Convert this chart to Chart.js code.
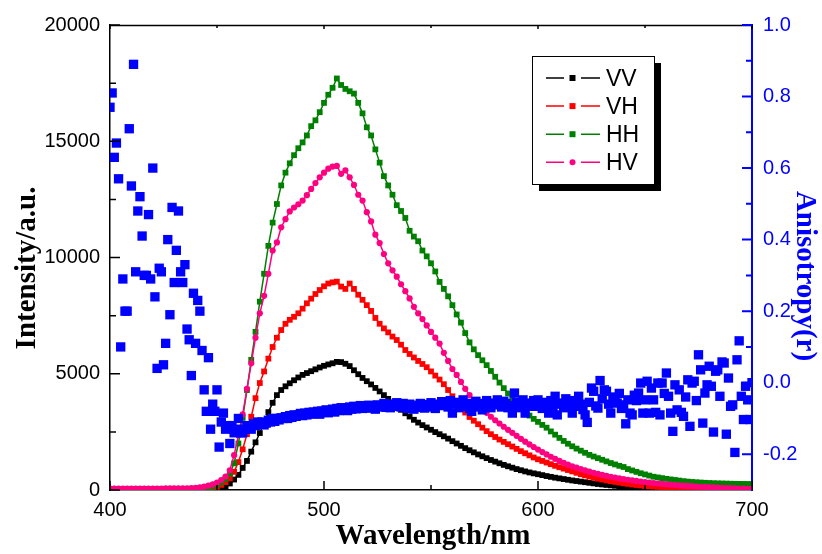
<!DOCTYPE html>
<html>
<head>
<meta charset="utf-8">
<script src="https://cdn.jsdelivr.net/npm/chart.js@4"></script>
<style>
html, body { margin: 0; padding: 0; background: #fff; }
#wrap { width: 822px; height: 554px; }
</style>
</head>
<body>
<div id="wrap"><canvas id="chart" width="822" height="554"></canvas></div>
<script>
// Polarized emission spectra (2 nm grid) and anisotropy r (1 nm grid), 400-700 nm
const wavelengthStart = 400;
const intensityStep = 2;
const anisotropyStep = 1;

const seriesLabels = ['VV', 'VH', 'HH', 'HV'];

const intensityVV = [
  10, 10, 10, 10, 10, 10, 10, 10, 10, 10,
  10, 10, 10, 10, 10, 10, 10, 10, 10, 12,
  14, 16, 18, 22, 32, 50, 85, 150, 280, 450,
  650, 950, 1250, 1650, 2050, 2450, 2880, 3350, 3750, 4080,
  4300, 4460, 4590, 4720, 4840, 4950, 5030, 5110, 5190, 5270,
  5340, 5400, 5450, 5510, 5500, 5430, 5330, 5150, 4980, 4820,
  4680, 4540, 4390, 4240, 4080, 3920, 3760, 3600, 3450, 3300,
  3160, 3020, 2900, 2790, 2690, 2590, 2490, 2400, 2310, 2210,
  2100, 2000, 1900, 1800, 1710, 1620, 1530, 1450, 1370, 1290,
  1220, 1150, 1080, 1020, 960, 900, 850, 800, 755, 715,
  680, 640, 600, 565, 530, 500, 470, 440, 410, 385,
  360, 335, 310, 285, 260, 238, 218, 200, 182, 166,
  150, 136, 123, 110, 98, 88, 80, 72, 65, 58,
  52, 47, 42, 38, 34, 31, 28, 25, 23, 21,
  19, 17, 16, 15, 14, 13, 12, 11, 10, 10,
  9
];

const intensityVH = [
  30, 30, 30, 30, 30, 30, 30, 30, 30, 30,
  30, 30, 30, 30, 30, 30, 30, 30, 32, 35,
  38, 42, 48, 60, 90, 140, 220, 340, 500, 780,
  1200, 1750, 2400, 3150, 3950, 4600, 5100, 5650, 6150, 6550,
  6880, 7150, 7320, 7450, 7600, 7800, 8030, 8230, 8430, 8600,
  8760, 8880, 8930, 8960, 8750, 8650, 8880, 8650, 8400, 8180,
  7950, 7700, 7400, 7150, 6950, 6780, 6600, 6450, 6250, 6020,
  5850, 5700, 5550, 5420, 5280, 5100, 4920, 4750, 4550, 4300,
  4030, 3780, 3550, 3330, 3140, 2980, 2830, 2680, 2530, 2400,
  2280, 2170, 2070, 1970, 1870, 1770, 1670, 1580, 1490, 1400,
  1320, 1250, 1180, 1110, 1040, 980, 920, 860, 800, 740,
  680, 630, 580, 530, 490, 450, 415, 380, 350, 320,
  290, 265, 240, 215, 195, 175, 160, 148, 137, 127,
  118, 110, 103, 96, 90, 85, 80, 76, 72, 68,
  64, 60, 56, 52, 48, 45, 42, 39, 36, 33,
  30
];

const intensityHH = [
  40, 40, 40, 40, 40, 40, 40, 40, 40, 40,
  40, 40, 40, 40, 40, 40, 42, 44, 46, 48,
  50, 60, 80, 110, 160, 230, 330, 480, 700, 1150,
  2000, 3100, 4300, 5600, 6800, 8100, 9300, 10500, 11500, 12300,
  13100, 13650, 14050, 14400, 14700, 14950, 15250, 15650, 15900, 16250,
  16650, 17000, 17300, 17700, 17420, 17250, 17150, 17050, 16650, 16200,
  15600, 15250, 14650, 14080, 13500, 13100, 12700, 12250, 12000, 11700,
  11150, 10900, 10700, 10300, 10050, 9750, 9400, 8950, 8650, 8330,
  7950, 7550, 7200, 6750, 6350, 6050, 5800, 5580, 5370, 5120,
  4870, 4620, 4380, 4150, 3950, 3750, 3560, 3380, 3200, 3060,
  2930, 2800, 2680, 2520, 2380, 2240, 2110, 1990, 1880, 1780,
  1690, 1600, 1510, 1440, 1370, 1300, 1230, 1160, 1100, 1040,
  990, 900, 840, 780, 720, 670, 620, 570, 540, 510,
  480, 455, 430, 405, 380, 360, 345, 332, 320, 310,
  300, 292, 285, 280, 275, 270, 266, 263, 260, 258,
  255
];

const intensityHV = [
  60, 60, 60, 60, 60, 60, 60, 60, 60, 60,
  60, 62, 64, 66, 68, 70, 72, 74, 76, 80,
  95, 115, 145, 185, 240, 320, 430, 580, 850, 1500,
  2350, 3250, 4350, 5450, 6550, 7600, 8350, 9300, 10300, 10650,
  11300, 11650, 11980, 12150, 12290, 12450, 12680, 12950, 13200, 13450,
  13650, 13820, 13910, 13940, 13600, 13750, 13450, 13120, 12700, 12450,
  11950, 11550, 10980, 10620, 10150, 9750, 9450, 9175, 8850, 8550,
  8240, 7880, 7600, 7350, 7080, 6800, 6550, 6300, 5900, 5550,
  5200, 4950, 4650, 4350, 4080, 3850, 3680, 3500, 3320, 3150,
  3000, 2860, 2720, 2590, 2460, 2330, 2200, 2080, 1960, 1850,
  1740, 1630, 1530, 1430, 1340, 1250, 1170, 1090, 1020, 960,
  900, 840, 790, 740, 695, 650, 610, 570, 535, 500,
  470, 440, 415, 390, 365, 340, 318, 298, 280, 262,
  245, 230, 215, 200, 187, 175, 163, 151, 140, 130,
  120, 110, 101, 93, 85, 78, 71, 65, 59, 53,
  48
];

const anisotropy = [
  0.77, 0.81, 0.63, 0.67, 0.57, 0.10, 0.29, 0.20, 0.20, 0.71,
  0.55, 0.89, 0.31, 0.48, 0.52, 0.41, 0.30, 0.30, 0.47, 0.29,
  0.60, 0.24, 0.04, 0.32, 0.31, 0.05, 0.11, 0.40, 0.19, 0.49,
  0.28, 0.37, 0.48, 0.31, 0.28, 0.33, 0.15, 0.12, 0.02, 0.25,
  0.11, 0.23, 0.20, 0.09, -0.02, -0.08, 0.07, -0.13, -0.06, -0.08,
  -0.02, -0.18, -0.11, -0.085, -0.13, -0.12, -0.17, -0.12, -0.14, -0.13,
  -0.10, -0.14, -0.14, -0.13, -0.12, -0.125, -0.13, -0.115, -0.12, -0.11,
  -0.115, -0.11, -0.118, -0.113, -0.105, -0.11, -0.10, -0.108, -0.10, -0.104,
  -0.098, -0.10, -0.095, -0.10, -0.092, -0.097, -0.09, -0.094, -0.09, -0.086,
  -0.092, -0.085, -0.09, -0.083, -0.088, -0.082, -0.086, -0.08, -0.088, -0.079,
  -0.083, -0.076, -0.084, -0.078, -0.074, -0.082, -0.072, -0.078, -0.07, -0.076,
  -0.071, -0.078, -0.068, -0.074, -0.066, -0.073, -0.07, -0.064, -0.072, -0.067,
  -0.071, -0.063, -0.07, -0.066, -0.074, -0.062, -0.068, -0.064, -0.058, -0.069,
  -0.063, -0.07, -0.06, -0.066, -0.056, -0.062, -0.068, -0.058, -0.064, -0.072,
  -0.06, -0.067, -0.074, -0.063, -0.069, -0.058, -0.065, -0.071, -0.061, -0.068,
  -0.056, -0.066, -0.072, -0.06, -0.064, -0.053, -0.062, -0.057, -0.068, -0.05,
  -0.085, -0.06, -0.055, -0.07, -0.062, -0.048, -0.066, -0.058, -0.072, -0.08,
  -0.06, -0.052, -0.068, -0.062, -0.076, -0.058, -0.05, -0.065, -0.07, -0.057,
  -0.062, -0.048, -0.06, -0.068, -0.052, -0.058, -0.07, -0.064, -0.085, -0.029,
  -0.055, -0.062, -0.07, -0.048, -0.085, -0.06, -0.057, -0.066, -0.05, -0.066,
  -0.048, -0.058, -0.072, -0.055, -0.062, -0.085, -0.05, -0.068, -0.038, -0.09,
  -0.06, -0.057, -0.07, -0.045, -0.064, -0.055, -0.085, -0.05, -0.066, -0.038,
  -0.06, -0.075, -0.09, -0.111, -0.055, -0.015, -0.024, -0.065, -0.071, 0.006,
  -0.045, -0.02, -0.024, -0.06, -0.085, -0.04, -0.052, -0.057, -0.03, -0.072,
  -0.062, -0.115, -0.048, -0.085, -0.09, -0.035, -0.05, -0.029, -0.001, -0.085,
  -0.048, 0.004, -0.085, -0.015, -0.048, -0.083, -0.001, -0.09, -0.001, -0.03,
  0.027, -0.038, -0.085, -0.136, -0.006, -0.076, -0.02, -0.083, -0.094, -0.04,
  0.008, -0.122, -0.001, 0.004, -0.05, 0.078, 0.036, -0.113, -0.029, -0.006,
  0.046, -0.01, -0.138, 0.032, 0.036, -0.038, 0.058, 0.055, -0.144, 0.013,
  -0.066, -0.062, -0.195, 0.064, 0.117, -0.038, -0.103, -0.01, -0.048, -0.103,
  0.0
];

// Axis ticks and labels
const xTickValues = [400, 500, 600, 700];
const xMinorTicks = [450, 550, 650];
const intensityTickValues = [0, 5000, 10000, 15000, 20000];
const intensityMinorTicks = [2500, 7500, 12500, 17500];
const anisotropyTickValues = [-0.2, 0.0, 0.2, 0.4, 0.6, 0.8, 1.0];
const anisotropyMinorTicks = [-0.1, 0.1, 0.3, 0.5, 0.7, 0.9];

const xTitle = 'Wavelength/nm';
const intensityTitle = 'Intensity/a.u.';
const anisotropyTitle = 'Anisotropy(r)';

const BLUE = '#0000ff';
const seriesColors = ['#000000', '#ff0000', '#008000', '#ff0080'];
const seriesMarkers = ['rect', 'rect', 'rect', 'circle'];
const intensitySeries = [intensityVV, intensityVH, intensityHH, intensityHV];

function toPoints(values, step) {
  return values.map((v, i) => ({ x: wavelengthStart + i * step, y: v }));
}

const SANS = "'Liberation Sans', Arial, Helvetica, sans-serif";
const SERIF = "'Liberation Serif', 'Times New Roman', serif";
Chart.defaults.font.family = SANS;

// Inward tick marks, top frame line and axis titles
const framePlugin = {
  id: 'frame',
  afterDraw(chart) {
    const { ctx, chartArea: a, scales } = chart;
    const xs = scales.x, yl = scales.y, yr = scales.y1;
    ctx.save();
    ctx.lineWidth = 1.5;
    ctx.strokeStyle = '#000';
    ctx.beginPath();
    ctx.moveTo(a.left, a.top + 0.5);
    ctx.lineTo(a.right, a.top + 0.5);
    ctx.stroke();

    const vTick = (x, y0, len) => { ctx.moveTo(x, y0); ctx.lineTo(x, y0 + len); };
    const hTick = (y, x0, len) => { ctx.moveTo(x0, y); ctx.lineTo(x0 + len, y); };

    ctx.beginPath();
    xTickValues.forEach(v => { const x = xs.getPixelForValue(v); vTick(x, a.bottom, -9); vTick(x, a.top, 4); });
    xMinorTicks.forEach(v => { const x = xs.getPixelForValue(v); vTick(x, a.bottom, -5); vTick(x, a.top, 3); });
    intensityTickValues.forEach(v => hTick(yl.getPixelForValue(v), a.left, 10));
    intensityMinorTicks.forEach(v => hTick(yl.getPixelForValue(v), a.left, 6));
    ctx.stroke();

    ctx.strokeStyle = BLUE;
    ctx.lineWidth = 2;
    ctx.beginPath();
    anisotropyTickValues.forEach(v => hTick(yr.getPixelForValue(v), a.right, -10));
    anisotropyMinorTicks.forEach(v => hTick(yr.getPixelForValue(v), a.right, -6));
    ctx.stroke();

    ctx.font = 'bold 29px ' + SERIF;
    ctx.textAlign = 'center';
    ctx.textBaseline = 'alphabetic';
    ctx.fillStyle = '#000';
    ctx.fillText(xTitle, (a.left + a.right) / 2 + 2, 544);

    ctx.save();
    ctx.translate(35, 268);
    ctx.rotate(-Math.PI / 2);
    ctx.fillText(intensityTitle, 0, 0);
    ctx.restore();

    ctx.save();
    ctx.fillStyle = BLUE;
    ctx.translate(797, 276);
    ctx.rotate(Math.PI / 2);
    ctx.fillText(anisotropyTitle, 0, 0);
    ctx.restore();
    ctx.restore();
  }
};

// Boxed legend with drop shadow: line - marker - line, then label
const legendPlugin = {
  id: 'boxLegend',
  afterDraw(chart) {
    const { ctx } = chart;
    const bx = 532, by = 56, bw = 122, bh = 128, sh = 7;
    ctx.save();
    ctx.fillStyle = '#000';
    ctx.fillRect(bx + sh, by + sh, bw, bh);
    ctx.fillStyle = '#fff';
    ctx.fillRect(bx, by, bw, bh);
    ctx.strokeStyle = '#000';
    ctx.lineWidth = 1;
    ctx.strokeRect(bx + 0.5, by + 0.5, bw, bh);

    ctx.font = '23px ' + SANS;
    ctx.textAlign = 'left';
    ctx.textBaseline = 'alphabetic';
    chart.data.datasets.forEach((ds, i) => {
      if (ds.yAxisID !== 'y') return;
      const y = 78 + i * 28.1;
      ctx.strokeStyle = ds.borderColor;
      ctx.lineWidth = 1.5;
      ctx.beginPath();
      ctx.moveTo(546, y); ctx.lineTo(564, y);
      ctx.moveTo(581, y); ctx.lineTo(600, y);
      ctx.stroke();
      ctx.fillStyle = ds.borderColor;
      if (ds.pointStyle === 'circle') {
        ctx.beginPath();
        ctx.arc(572.5, y, 3, 0, Math.PI * 2);
        ctx.fill();
      } else {
        ctx.fillRect(569.5, y - 3, 6, 6);
      }
      ctx.fillStyle = '#000';
      ctx.fillText(ds.label, 606, y + 8);
    });
    ctx.restore();
  }
};

const datasets = intensitySeries.map((values, i) => ({
  label: seriesLabels[i],
  data: toPoints(values, intensityStep),
  yAxisID: 'y',
  borderColor: seriesColors[i],
  backgroundColor: seriesColors[i],
  borderWidth: 1.5,
  pointStyle: seriesMarkers[i],
  pointRadius: seriesMarkers[i] === 'circle' ? 3.1 : 4.1,
  pointBorderWidth: 0,
  pointBackgroundColor: seriesColors[i],
  tension: 0,
  order: 5 - i
}));

datasets.push({
  label: 'r',
  data: toPoints(anisotropy, anisotropyStep),
  yAxisID: 'y1',
  showLine: false,
  borderColor: BLUE,
  backgroundColor: BLUE,
  pointStyle: 'rect',
  pointRadius: 6.6,
  pointBorderWidth: 0,
  pointBackgroundColor: BLUE,
  order: 0
});

const tickFont = { family: SANS, size: 20 };

new Chart(document.getElementById('chart'), {
  type: 'line',
  data: { datasets },
  plugins: [framePlugin, legendPlugin],
  options: {
    responsive: false,
    animation: false,
    devicePixelRatio: 1,
    layout: { padding: { top: 25, left: 0, right: 0, bottom: 0 } },
    plugins: { legend: { display: false }, tooltip: { enabled: false } },
    scales: {
      x: {
        type: 'linear',
        min: 400,
        max: 700,
        afterBuildTicks: s => { s.ticks = xTickValues.map(v => ({ value: v })); },
        afterFit: s => { s.height = 64; },
        grid: { display: false, drawTicks: false },
        border: { display: true, color: '#000', width: 1.5 },
        ticks: { font: tickFont, color: '#000', padding: 8, maxRotation: 0, callback: v => String(v) }
      },
      y: {
        type: 'linear',
        position: 'left',
        min: 0,
        max: 20000,
        afterBuildTicks: s => { s.ticks = intensityTickValues.map(v => ({ value: v })); },
        afterFit: s => { s.width = 110; },
        grid: { display: false, drawTicks: false },
        border: { display: true, color: '#000', width: 1.5 },
        ticks: { font: tickFont, color: '#000', padding: 10, callback: v => String(v) }
      },
      y1: {
        type: 'linear',
        position: 'right',
        min: -0.3,
        max: 1.0,
        afterBuildTicks: s => { s.ticks = anisotropyTickValues.map(v => ({ value: v })); },
        afterFit: s => { s.width = 70; },
        grid: { display: false, drawTicks: false },
        border: { display: true, color: BLUE, width: 2 },
        ticks: { font: tickFont, color: BLUE, padding: 11, callback: v => Number(v).toFixed(1) }
      }
    }
  }
});
</script>
</body>
</html>
